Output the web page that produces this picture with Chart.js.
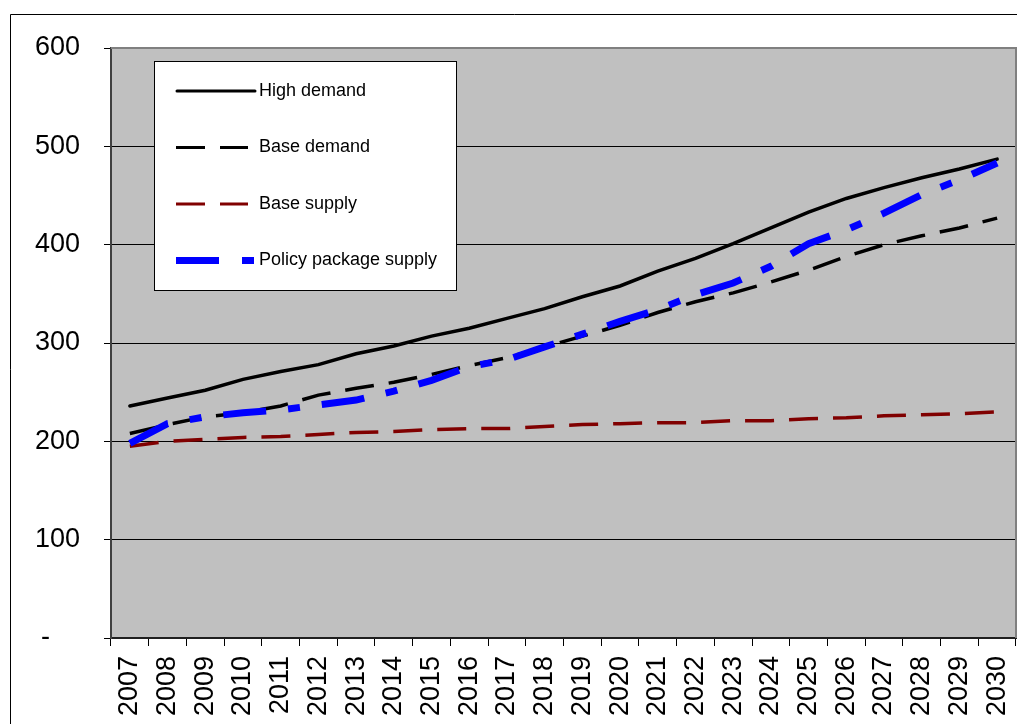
<!DOCTYPE html>
<html>
<head>
<meta charset="utf-8">
<script src="https://cdn.jsdelivr.net/npm/chart.js@4/dist/chart.umd.min.js"></script>
<style>
  html, body { margin: 0; padding: 0; background: #fff; }
  #wrap { width: 1017px; height: 724px; position: relative; overflow: hidden; }
</style>
</head>
<body>
<div id="wrap"><canvas id="chart" width="1017" height="724"></canvas></div>
<script>
const years = ["2007", "2008", "2009", "2010", "2011", "2012", "2013", "2014", "2015", "2016", "2017", "2018",
               "2019", "2020", "2021", "2022", "2023", "2024", "2025", "2026", "2027", "2028", "2029", "2030"];
const highDemand = [236, 244, 252, 263, 271, 278, 289, 297, 307, 315, 325, 335,
                    347, 358, 373, 386, 401, 417, 433, 447, 458, 468, 477, 487];
const baseDemand = [208, 217, 225, 229, 236, 247, 254, 260, 268, 277, 285, 296,
                    307, 318, 331, 342, 351, 362, 374, 388, 400, 409, 417, 427];
const baseSupply = [195, 200, 202, 204, 205, 207, 209, 210, 212, 213, 213, 215,
                    217, 218, 219, 219, 221, 221, 223, 224, 226, 227, 228, 230];
const policySupply = [198, 218, 225, 229, 232, 237, 242, 251, 262, 276, 283, 296,
                      309, 322, 334, 349, 361, 378, 401, 415, 432, 451, 466, 483];
const yTicks = [0, 100, 200, 300, 400, 500, 600];

const FONT = "'Liberation Sans', Arial, sans-serif";

// grey plot area + outer frame
const background = {
  id: 'background',
  beforeDraw(chart) {
    const { ctx, chartArea: a } = chart;
    ctx.save();
    ctx.fillStyle = '#c0c0c0';
    ctx.fillRect(a.left, a.top, a.right - a.left, a.bottom - a.top);
    ctx.strokeStyle = '#000';
    ctx.lineWidth = 1;
    ctx.beginPath();
    ctx.moveTo(10.5, 800);
    ctx.lineTo(10.5, 14.5);
    ctx.lineTo(1100, 14.5);
    ctx.stroke();
    ctx.restore();
  },
  beforeDatasetsDraw(chart) {
    // grey frame on top and right of the plot
    const { ctx, chartArea: a } = chart;
    ctx.save();
    ctx.strokeStyle = '#808080';
    ctx.lineWidth = 2;
    ctx.beginPath();
    ctx.moveTo(a.left, a.top);
    ctx.lineTo(a.right, a.top);
    ctx.lineTo(a.right, a.bottom);
    ctx.stroke();
    ctx.restore();
  }
};

// boxed legend inside the plot, like the original
const boxLegend = {
  id: 'boxLegend',
  afterDraw(chart) {
    const { ctx } = chart;
    ctx.save();
    ctx.fillStyle = '#fff';
    ctx.fillRect(154, 61, 302, 229);
    ctx.strokeStyle = '#000';
    ctx.lineWidth = 1;
    ctx.strokeRect(154.5, 61.5, 302, 229);
    chart.data.datasets.forEach((ds, i) => {
      const y = 91 + i * 56.5;
      ctx.strokeStyle = ds.borderColor;
      ctx.lineWidth = i === 3 ? 7 : 3;
      ctx.lineCap = i === 0 ? 'round' : 'butt';
      ctx.setLineDash(i === 3 ? [43, 23, 12, 30] : (ds.borderDash || []));
      ctx.beginPath();
      ctx.moveTo(i === 0 ? 177 : 176, y);
      ctx.lineTo(i === 3 ? 254 : (i === 0 ? 255 : 248), y);
      ctx.stroke();
      ctx.setLineDash([]);
      ctx.fillStyle = '#000';
      ctx.font = '18px ' + FONT;
      ctx.textBaseline = 'middle';
      ctx.fillText(ds.label, 259, y);
    });
    ctx.restore();
  }
};

new Chart(document.getElementById('chart'), {
  type: 'line',
  data: {
    labels: years,
    datasets: [
      { label: 'High demand', data: highDemand, borderColor: '#000', borderWidth: 3.5,
        borderCapStyle: 'round', order: 1 },
      { label: 'Base demand', data: baseDemand, borderColor: '#000', borderWidth: 3.5,
        borderDash: [29, 15], order: 2 },
      { label: 'Base supply', data: baseSupply, borderColor: '#800000', borderWidth: 3.5,
        borderDash: [29, 15], order: 3 },
      { label: 'Policy package supply', data: policySupply, borderColor: '#0000ff', borderWidth: 7,
        borderDash: [43, 22, 12, 22], order: 0 }
    ]
  },
  options: {
    responsive: false,
    animation: false,
    devicePixelRatio: 1,
    layout: { padding: { left: 0, top: 48, right: 1, bottom: 0 } },
    elements: {
      point: { radius: 0 },
      line: { tension: 0, fill: false }
    },
    plugins: {
      legend: { display: false },
      tooltip: { enabled: false }
    },
    scales: {
      x: {
        offset: true,
        grid: { drawOnChartArea: false, drawTicks: true, tickLength: 8, offset: true, color: '#000', lineWidth: 1 },
        border: { display: true, color: '#202020', width: 2 },
        ticks: {
          color: '#000', font: { family: FONT, size: 27 },
          minRotation: 90, maxRotation: 90, autoSkip: false, padding: 10
        },
        afterFit(scale) {
          scale.height = 86;
          scale.paddingLeft = 0;
          scale.paddingRight = 0;
        }
      },
      y: {
        min: 0, max: 600,
        afterBuildTicks(scale) { scale.ticks = yTicks.map(v => ({ value: v })); },
        grid: { color: '#000', lineWidth: 1, tickLength: 7, drawTicks: true },
        border: { display: true, color: '#404040', width: 2 },
        ticks: {
          color: '#000', font: { family: FONT, size: 27 }, padding: 24,
          callback: v => v === 0 ? '-    ' : String(v)
        },
        afterFit(scale) {
          scale.width = 111;
          scale.paddingTop = 0;
          scale.paddingBottom = 0;
        }
      }
    }
  },
  plugins: [background, boxLegend]
});
</script>
</body>
</html>
